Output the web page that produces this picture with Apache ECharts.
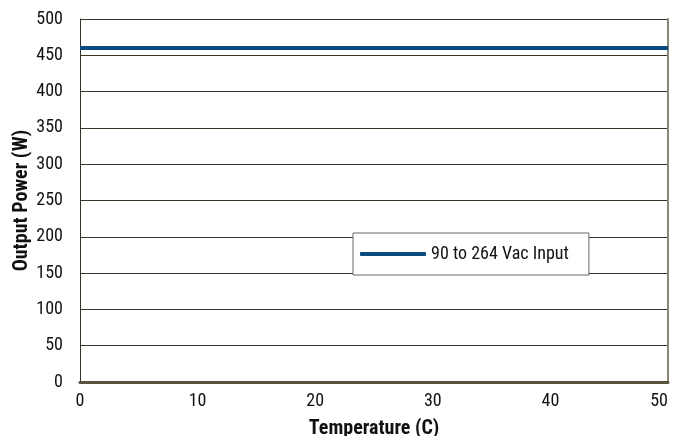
<!DOCTYPE html>
<html><head><meta charset="utf-8">
<script src="https://cdn.jsdelivr.net/npm/echarts@6/dist/echarts.min.js"></script>
<style>html,body{margin:0;padding:0;background:#fff}#c{width:674px;height:436px}</style>
</head><body><div id="c"></div>
<script>
const seriesName = '90 to 264 Vac Input';
const temps = [0, 50];
const power = [460, 460];
const xTicks = [0, 10, 20, 30, 40, 50];
const yTicks = [0, 50, 100, 150, 200, 250, 300, 350, 400, 450, 500];
const FONT = '"Liberation Sans Narrow", "Arial Narrow", "Roboto Condensed", sans-serif';
const chart = echarts.init(document.getElementById('c'));
chart.setOption({
  animation: false,
  grid: {left: 80, right: 6, top: 19, bottom: 54, show: false, containLabel: false, outerBoundsMode: 'none'},
  xAxis: {
    type: 'value', min: xTicks[0], max: xTicks[xTicks.length-1], interval: 10,
    name: 'Temperature (C)', nameLocation: 'middle', nameGap: 37, nameMoveOverlap: false,
    nameTextStyle: {fontFamily: FONT, fontWeight: 'bold', fontSize: 20, color: '#111'},
    axisLine: {show: true, onZero: false, lineStyle: {color: '#5a5240', width: 3}},
    axisTick: {show: false},
    splitLine: {show: false},
    axisLabel: {fontFamily: FONT, fontSize: 18, color: '#111', margin: 10, alignMaxLabel: 'right'}
  },
  yAxis: [{
    type: 'value', min: yTicks[0], max: yTicks[yTicks.length-1], interval: 50,
    name: 'Output Power (W)', nameLocation: 'middle', nameGap: 48, nameRotate: 90, nameMoveOverlap: false,
    nameTextStyle: {fontFamily: FONT, fontWeight: 'bold', fontSize: 20, color: '#111'},
    axisLine: {show: true, lineStyle: {color: '#3a3428', width: 1}},
    axisTick: {show: false},
    splitLine: {show: true, lineStyle: {color: '#3a3428', width: 1}},
    axisLabel: {fontFamily: FONT, fontSize: 18, color: '#111', margin: 17}
  }, {
    type: 'value', position: 'right', min: yTicks[0], max: yTicks[yTicks.length-1], interval: 50,
    axisLine: {show: true, lineStyle: {color: '#8a857a', width: 2}},
    axisTick: {show: false}, axisLabel: {show: false}, splitLine: {show: false}
  }],
  legend: {
    left: 353, top: 233, orient: 'horizontal',
    padding: [12, 20, 12, 7],
    itemWidth: 66, itemHeight: 4, itemGap: 0,
    backgroundColor: '#fff', borderColor: '#666', borderWidth: 1,
    textStyle: {fontFamily: FONT, fontSize: 18, color: '#111', padding: [0,0,0,0]},
    icon: 'roundRect',
    data: [{name: seriesName}]
  },
  series: [{
    name: seriesName, type: 'line', showSymbol: false, yAxisIndex: 0,
    data: temps.map((t, i) => [t, power[i]]),
    lineStyle: {color: '#0b4a7e', width: 4},
    itemStyle: {color: '#0b4a7e'}
  }]
});
</script></body></html>
